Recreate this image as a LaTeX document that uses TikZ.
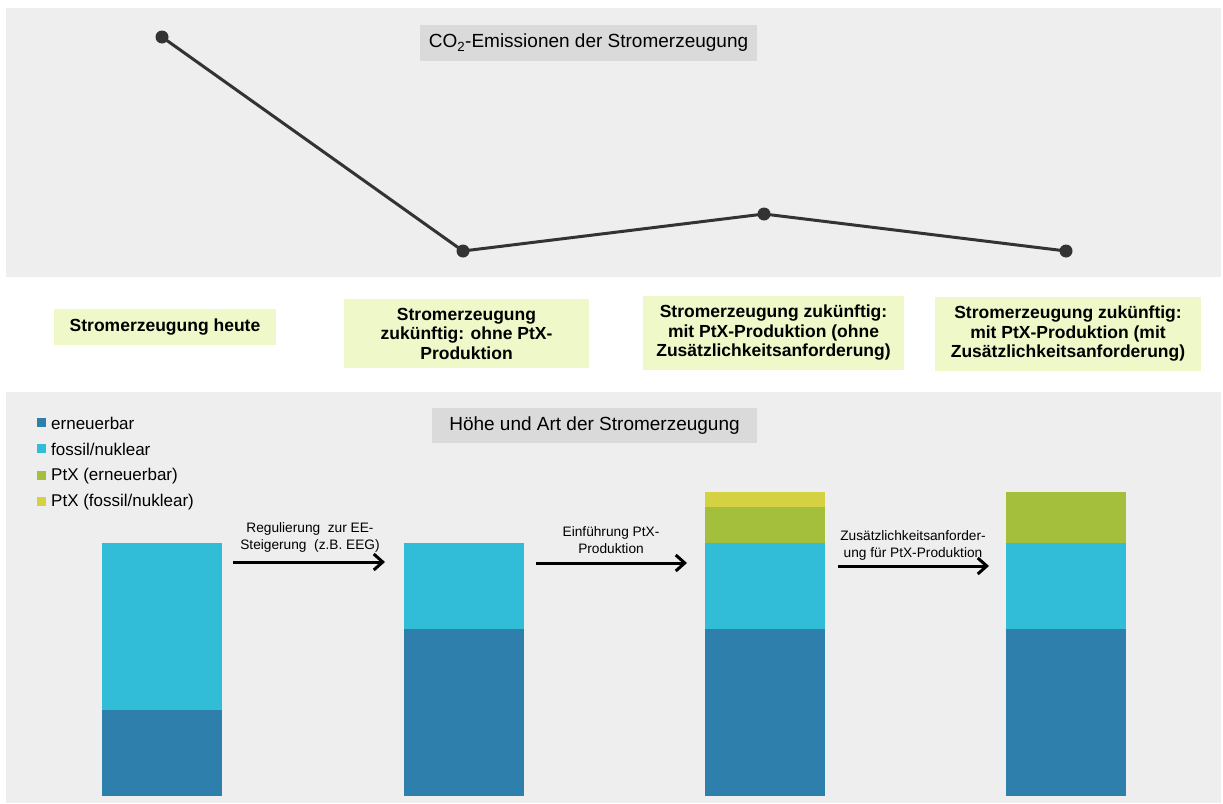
\documentclass[tikz,border=0pt]{standalone}
\usepackage{fontspec}
\setmainfont{Liberation Sans}
\usetikzlibrary{arrows.meta}
\definecolor{panel}{HTML}{EEEEEE}
\definecolor{titlefill}{HTML}{DADADA}
\definecolor{labelbox}{HTML}{EEF8C9}
\definecolor{ee}{HTML}{2F7FAC}
\definecolor{fossil}{HTML}{31BDD8}
\definecolor{ptxee}{HTML}{A3BF3B}
\definecolor{ptxfossil}{HTML}{D4D243}
\definecolor{linec}{HTML}{333333}
\tikzset{
  titlenode/.style={fill=titlefill, inner sep=0pt, font=\fontsize{19}{23}\selectfont},
  labelnode/.style={fill=labelbox, inner sep=0pt, align=center, font=\fontsize{17.5}{19.5}\selectfont\bfseries},
  dotnode/.style={circle, fill=linec, inner sep=0pt, minimum size=13pt},
  legtext/.style={anchor=west, inner sep=0pt, font=\fontsize{17}{20}\selectfont},
  arrlabel/.style={align=center, inner sep=0pt, font=\fontsize{13.7}{17}\selectfont},
  steparrow/.style={line width=3pt, -{Straight Barb[length=9pt,width=16pt,line width=3pt]}},
}
\begin{document}
\begin{tikzpicture}[x=1pt,y=-1pt]
\useasboundingbox (0,0) rectangle (1223,803);
\fill[white] (0,0) rectangle (1223,803);
% panels
\fill[panel] (6,8) rectangle (1221,277);
\fill[panel] (6,392) rectangle (1221,803);
% top title
\node[titlenode, minimum width=337pt, minimum height=36pt] (t1) at (588.5,43) {CO\textsubscript{2}-Emissionen der Stromerzeugung};
% line chart
\node[dotnode] (p1) at (162,37) {};
\node[dotnode] (p2) at (463,251) {};
\node[dotnode] (p3) at (764,214) {};
\node[dotnode] (p4) at (1066,251) {};
\draw[linec, line width=3pt] (p1.center) -- (p2.center) -- (p3.center) -- (p4.center);
% labels
\node[labelnode, minimum width=222pt, minimum height=36pt] (l1) at (165,327) {Stromerzeugung heute};
\node[labelnode, minimum width=245pt, minimum height=69pt] (l2) at (466.5,333.5) {Stromerzeugung\\zukünftig: ohne PtX-\\Produktion};
\node[labelnode, minimum width=261pt, minimum height=74pt] (l3) at (773.5,333) {Stromerzeugung zukünftig:\\mit PtX-Produktion (ohne\\Zusätzlichkeitsanforderung)};
\node[labelnode, minimum width=266pt, minimum height=74pt] (l4) at (1068,334) {Stromerzeugung zukünftig:\\mit PtX-Produktion (mit\\Zusätzlichkeitsanforderung)};
% bottom title
\node[titlenode, minimum width=325pt, minimum height=35pt] (t2) at (594.5,425.5) {Höhe und Art der Stromerzeugung};
% legend
\fill[ee] (37,418) rectangle (46,427);
\node[legtext] (g1) at (51,423) {erneuerbar};
\fill[fossil] (37,444) rectangle (46,453);
\node[legtext] (g2) at (51,449) {fossil/nuklear};
\fill[ptxee] (37,471) rectangle (46,480);
\node[legtext] (g3) at (51,476) {PtX (erneuerbar)};
\fill[ptxfossil] (37,497) rectangle (46,506);
\node[legtext] (g4) at (51,502) {PtX (fossil/nuklear)};
% bars
\fill[ee] (102,710) rectangle (222,796);
\fill[fossil] (102,543) rectangle (222,710);
\fill[ee] (404,629) rectangle (524,796);
\fill[fossil] (404,543) rectangle (524,629);
\fill[ee] (705,629) rectangle (825,796);
\fill[fossil] (705,543) rectangle (825,629);
\fill[ptxee] (705,507) rectangle (825,543);
\fill[ptxfossil] (705,492) rectangle (825,507);
\fill[ee] (1006,629) rectangle (1126,796);
\fill[fossil] (1006,543) rectangle (1126,629);
\fill[ptxee] (1006,492) rectangle (1126,543);
% arrows
\coordinate (a1s) at (233,562);
\coordinate (a1e) at (385,562);
\coordinate (a2s) at (536,563);
\coordinate (a2e) at (687,563);
\coordinate (a3s) at (838,566);
\coordinate (a3e) at (989,566);
\draw[steparrow] (a1s) -- (a1e);
\draw[steparrow] (a2s) -- (a2e);
\draw[steparrow] (a3s) -- (a3e);
\node[arrlabel] (al1) at (310,537) {Regulierung\ \ zur EE-\\Steigerung\ \ (z.B. EEG)};
\node[arrlabel] (al2) at (611,540) {Einführung PtX-\\Produktion};
\node[arrlabel] (al3) at (913,545) {Zusätzlichkeitsanforder-\\ung für PtX-Produktion};
\end{tikzpicture}
\end{document}
